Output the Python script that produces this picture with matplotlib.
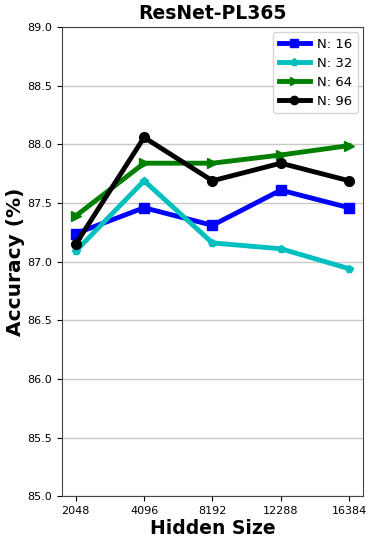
import matplotlib
matplotlib.use('Agg')
import matplotlib.pyplot as plt
import numpy as np

hidden = ['2048', '4096', '8192', '12288', '16384']
acc_16 = [87.24, 87.46, 87.31, 87.61, 87.46]
acc_32 = [87.09, 87.69, 87.16, 87.11, 86.94]
acc_64 = [87.39, 87.84, 87.84, 87.91, 87.99]
acc_96 = [87.15, 88.06, 87.69, 87.84, 87.69]

x = np.arange(len(hidden))

fig = plt.figure(figsize=(3.74, 5.44), dpi=100)
ax = fig.add_subplot(111)
ax.plot(x, acc_16, color='b', marker='s', lw=3.5, ms=7, label='N: 16')
ax.plot(x, acc_32, color='c', marker='p', lw=3.5, ms=6, label='N: 32')
ax.plot(x, acc_64, color='g', marker='>', lw=3.5, ms=7, label='N: 64')
ax.plot(x, acc_96, color='k', marker='o', lw=3.5, ms=7, label='N: 96')

ax.set_xticks(x)
ax.set_xticklabels(hidden, fontsize=8)
ax.set_ylim(85.0, 89.0)
ax.set_yticks(np.arange(85.0, 89.01, 0.5))
ax.tick_params(axis='y', labelsize=8)
ax.yaxis.grid(True, color='#c8c8c8', lw=1)
ax.set_axisbelow(True)
for s in ax.spines.values():
    s.set_color('#444444')

ax.set_xlabel('Hidden Size', fontsize=13.5, fontweight='heavy', labelpad=2)
ax.set_ylabel('Accuracy (%)', fontsize=14.5, fontweight='heavy', labelpad=2)
ax.set_title('ResNet-PL365', fontsize=13.5, fontweight='bold')
ax.legend(loc='upper right', fontsize=9.5, handlelength=2.4, labelspacing=0.45,
          borderpad=0.4, handletextpad=0.5, borderaxespad=0.4, markerscale=0.85)

plt.subplots_adjust(left=0.166, right=0.97, top=0.95, bottom=0.088)
plt.savefig('out.png', format='png', dpi=100)
plt.close()
